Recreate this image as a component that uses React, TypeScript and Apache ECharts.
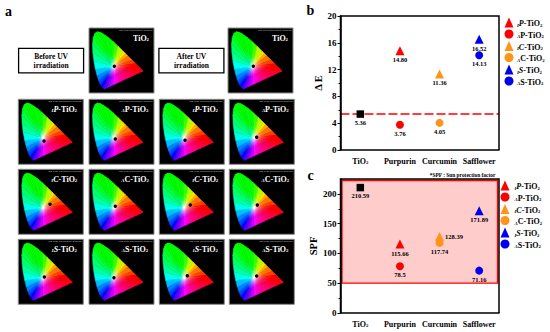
import React, { useEffect, useRef } from "react";
import * as echarts from "echarts";

const SERIF = '"Liberation Serif"';

// ---------- data ----------
const CATEGORIES = ["TiO2", "Purpurin", "Curcumin", "Safflower"];
const SERIES_NAMES = ["lP-TiO2", "aP-TiO2", "lC-TiO2", "aC-TiO2", "lS-TiO2", "aS-TiO2"];
const SERIES_CATEGORY = [1, 1, 2, 2, 3, 3];
const SERIES_SYMBOL = ["triangle", "circle", "triangle", "circle", "triangle", "circle"];
const SERIES_COLOR = ["#FF0000", "#FF0000", "#FF9419", "#FF9419", "#0000F0", "#0000F0"];

const DELTA_E_TIO2 = 5.36;
const DELTA_E_VALUES = [14.8, 3.76, 11.36, 4.05, 16.52, 14.13];
const DELTA_E_LABELS = ["14.80", "3.76", "11.36", "4.05", "16.52", "14.13"];
const DELTA_E_TICKS = [0, 4, 8, 12, 16, 20];

const SPF_TIO2 = 210.59;
const SPF_VALUES = [115.66, 78.5, 128.39, 117.74, 171.89, 71.16];
const SPF_LABELS = ["115.66", "78.5", "128.39", "117.74", "171.89", "71.16"];
const SPF_TICKS = [0, 50, 100, 150, 200];
const SPF_LIMIT = 50;
const SPF_MAX = 225;

// CIE 1931 outline (x, y) and the measured chromaticity of each sample
const CIE_OUTLINE = [
  [0.1741, 0.005], [0.144, 0.0297], [0.1241, 0.0578], [0.1096, 0.0868], [0.0913, 0.1327],
  [0.0687, 0.2007], [0.0454, 0.295], [0.0235, 0.4127], [0.0082, 0.5384], [0.0039, 0.6548],
  [0.0139, 0.7502], [0.0389, 0.812], [0.0743, 0.8338], [0.1142, 0.8262], [0.1547, 0.8059],
  [0.2296, 0.7543], [0.3016, 0.6923], [0.3731, 0.6245], [0.4441, 0.5547], [0.4788, 0.5202],
  [0.5125, 0.4866], [0.5752, 0.4242], [0.627, 0.3725], [0.6915, 0.3083], [0.7347, 0.2653],
  [0.65, 0.2259], [0.6, 0.2029], [0.55, 0.1796], [0.5, 0.1565], [0.45, 0.1333],
  [0.4, 0.1098], [0.35, 0.0866], [0.3, 0.0634], [0.25, 0.04], [0.21, 0.0215], [0.1741, 0.005],
];
const WHITE_POINT = [0.3127, 0.329];
const SAMPLE_LABELS = [
  "TiO2", "TiO2",
  "lP", "aP", "lP", "aP",
  "lC", "aC", "lC", "aC",
  "lS", "aS", "lS", "aS",
];
const SAMPLE_CIE = [
  [0.319, 0.333], [0.319, 0.333],
  [0.325, 0.284], [0.333, 0.313], [0.325, 0.294], [0.349, 0.338],
  [0.412, 0.381], [0.333, 0.352], [0.401, 0.371], [0.358, 0.371],
  [0.329, 0.342], [0.314, 0.332], [0.358, 0.361], [0.349, 0.357],
];
const PANEL_SLOTS = [
  [89, 28], [228, 28],
  [18.3, 99.3], [89, 99.3], [159.3, 99.3], [229.3, 99.3],
  [18.3, 169.3], [89, 169.3], [159.3, 169.3], [229.3, 169.3],
  [18.3, 239.3], [89, 239.3], [159.3, 239.3], [229.3, 239.3],
];
const BOXES = [
  { x: 18.6, text: "Before UV\nirradiation" },
  { x: 158.9, text: "After UV\nirradiation" },
];

// ---------- helpers ----------
const gamma = (v: number) => Math.round(255 * Math.pow(v, 1 / 1.5));
function xyColor(x: number, y: number) {
  const X = x / y, Y = 1, Z = (1 - x - y) / y;
  let r = Math.max(0, 3.2406 * X - 1.5372 * Y - 0.4986 * Z);
  let g = Math.max(0, -0.9689 * X + 1.8758 * Y + 0.0415 * Z);
  let b = Math.max(0, 0.0557 * X - 0.204 * Y + 1.057 * Z);
  const m = Math.max(r, g, b) || 1;
  return `rgb(${gamma(r / m)},${gamma(g / m)},${gamma(b / m)})`;
}
const segments = CIE_OUTLINE.slice(0, -1).map((p, i) => [p[0], p[1], CIE_OUTLINE[i + 1][0], CIE_OUTLINE[i + 1][1]]);
const segmentStops = segments.map((s) => {
  const mx = (s[0] + s[2]) / 2, my = (s[1] + s[3]) / 2;
  return [0, 0.15, 0.3, 0.5, 0.75, 1].map((t) => {
    const k = Math.min(1, t * 1.7);
    return {
      offset: t,
      color: xyColor(WHITE_POINT[0] + (mx - WHITE_POINT[0]) * k, WHITE_POINT[1] + (my - WHITE_POINT[1]) * k),
    };
  });
});

function seriesRich(color: string, size: number) {
  const font = { fontFamily: SERIF, fontWeight: "bold" as const, color };
  return {
    b: { ...font, fontSize: size, lineHeight: size + 2, verticalAlign: "bottom" as const },
    i: { ...font, fontSize: size, lineHeight: size + 2, fontStyle: "italic" as const, verticalAlign: "bottom" as const },
    s: { ...font, fontSize: size * 0.6, lineHeight: size * 0.6, verticalAlign: "bottom" as const },
    si: { ...font, fontSize: size * 0.6, lineHeight: size * 0.6, fontStyle: "italic" as const, verticalAlign: "bottom" as const },
  };
}
function richName(name: string) {
  if (name.startsWith("TiO2")) return "{b|TiO}{s|2}";
  const prefix = name[0] === "l" ? "{si|I}" : "{si|A}";
  return `${prefix}{${name[0] === "l" ? "i" : "b"}|${name[1]}}{b|-TiO}{s|2}`;
}

function axesFor(gridIndex: number, max: number, interval: number, ticks: number[], name: string, nameGap: number) {
  const labelStyle = { fontFamily: SERIF, fontWeight: "bold" as const, color: "#000" };
  return {
    x: {
      type: "category", gridIndex, data: CATEGORIES, z: 6,
      axisLine: { lineStyle: { color: "#000", width: 1.5 } },
      axisTick: { alignWithLabel: true, length: 2, lineStyle: { color: "#000", width: 1 } },
      axisLabel: {
        margin: 5, interval: 0, ...labelStyle, fontSize: 8,
        formatter: (v: string) => (v === "TiO2" ? "{b|TiO}{s|2}" : `{b|${v}}`),
        rich: seriesRich("#000", 8),
      },
    },
    y: {
      type: "value", gridIndex, min: 0, max, interval, z: 6,
      name, nameLocation: "middle", nameRotate: 90, nameGap,
      nameTextStyle: { ...labelStyle, fontSize: 10.5 },
      axisLine: { show: true, lineStyle: { color: "#000", width: 1.5 } },
      axisTick: { show: true, length: 3, customValues: ticks, lineStyle: { color: "#000", width: 1 } },
      minorTick: { show: true, splitNumber: 2, length: 2, lineStyle: { color: "#000", width: 1 } },
      axisLabel: { margin: 4, ...labelStyle, fontSize: 9, customValues: ticks },
      splitLine: { show: false },
    },
  };
}

function scatterSeries(gridIndex: number, values: number[], labels: string[]) {
  return SERIES_NAMES.map((name, i) => ({
    type: "scatter",
    name,
    xAxisIndex: gridIndex,
    yAxisIndex: gridIndex,
    symbol: SERIES_SYMBOL[i],
    symbolSize: SERIES_SYMBOL[i] === "triangle" ? 9 : 8,
    itemStyle: { color: SERIES_COLOR[i], opacity: 1 },
    label: {
      show: true,
      position: labels[i] === "128.39" ? "right" : "bottom",
      distance: 1,
      formatter: labels[i],
      fontFamily: SERIF, fontWeight: "bold", fontSize: 6.5, color: "#000",
    },
    data: [[SERIES_CATEGORY[i], values[i]]],
  }));
}

function buildOption() {
  const chartB = axesFor(0, 20, 4, DELTA_E_TICKS, "\u0394 E", 17);
  const chartC = axesFor(1, SPF_MAX, 50, SPF_TICKS, "SPF", 20);
  const xAxis: any[] = [chartB.x, chartC.x];
  const yAxis: any[] = [chartB.y, chartC.y];
  const gridC = { left: 340.5, top: 179, width: 158.5, height: 134 };
  const grid: any[] = [{ left: 340.5, top: 16, width: 158.5, height: 134 }, gridC];
  const series: any[] = [];

  const tio2 = (gridIndex: number, value: number, text: string, extra: any) => ({
    type: "scatter", name: "TiO2", xAxisIndex: gridIndex, yAxisIndex: gridIndex,
    symbol: "rect", symbolSize: 7.5, itemStyle: { color: "#000", opacity: 1 },
    label: {
      show: true, position: "bottom", distance: 1, formatter: text,
      fontFamily: SERIF, fontWeight: "bold", fontSize: 6.5, color: "#000",
    },
    data: [[0, value]],
    ...extra,
  });
  series.push(
    tio2(0, DELTA_E_TIO2, DELTA_E_TIO2.toFixed(2), {
      markLine: {
        silent: true, symbol: "none", z: 1, label: { show: false },
        lineStyle: { color: "#FF0000", type: [9, 3], width: 1.5 },
        data: [{ yAxis: DELTA_E_TIO2 }],
      },
    }),
    tio2(1, SPF_TIO2, SPF_TIO2.toFixed(2), {
      markArea: {
        silent: true, z: 1,
        itemStyle: { color: "#FFCCCC", borderWidth: 0 },
        data: [[{ yAxis: SPF_LIMIT }, { yAxis: SPF_MAX }]],
      },
    }),
    ...scatterSeries(0, DELTA_E_VALUES, DELTA_E_LABELS),
    ...scatterSeries(1, SPF_VALUES, SPF_LABELS)
  );

  const graphic: any[] = [];
  const letter = (text: string, x: number, y: number) => ({
    type: "text", x, y, z: 20,
    style: { text, fontFamily: SERIF, fontWeight: "bold", fontSize: 14, fill: "#000", align: "center", verticalAlign: "middle" },
  });
  graphic.push(letter("a", 8.5, 11), letter("b", 310.5, 10), letter("c", 310.5, 175));
  graphic.push({
    type: "text", x: 462.5, y: 175, z: 20,
    style: {
      text: "*SPF : Sun protection factor", fontFamily: SERIF, fontWeight: "bold", fontSize: 5.4,
      fill: "#000", align: "center", verticalAlign: "middle",
    },
  });
  // frames of the two plots, and the red outline of the SPF window just inside the frame
  const limitY = gridC.top + gridC.height * (1 - SPF_LIMIT / SPF_MAX);
  graphic.push({
    type: "polyline", z: 1.5, zlevel: 0, silent: true,
    shape: {
      points: [
        [gridC.left + 1.5, limitY], [gridC.left + 1.5, gridC.top + 1.5],
        [gridC.left + gridC.width - 1.5, gridC.top + 1.5], [gridC.left + gridC.width - 1.5, limitY],
        [gridC.left + 1.5, limitY],
      ],
    },
    style: { fill: "none", stroke: "#FF0000", lineWidth: 1.3 },
  });
  [16, 179].forEach((top) =>
    graphic.push({
      type: "polyline", z: 30, silent: true,
      shape: {
        points: [
          [340.5, top + 134], [340.5, top], [499, top], [499, top + 134],
        ],
      },
      style: { fill: "none", stroke: "#000", lineWidth: 1.5 },
    })
  );
  BOXES.forEach((b) => {
    graphic.push({
      type: "rect", z: 1,
      shape: { x: b.x, y: 48.3, width: 65, height: 24.5 },
      style: { fill: "#fff", stroke: "#000", lineWidth: 1.3 },
    });
    graphic.push({
      type: "text", x: b.x + 32.5, y: 60.8, z: 2,
      style: {
        text: b.text, fontFamily: SERIF, fontWeight: "bold", fontSize: 7.5, lineHeight: 9,
        fill: "#000", align: "center", verticalAlign: "middle",
      },
    });
  });

  SAMPLE_LABELS.forEach((name, i) => {
    const [px, py] = PANEL_SLOTS[i];
    const gridIndex = i + 2;
    const scale = 69;
    const maxY = 0.9;
    grid.push({ left: px + 3.3, top: py + 61.3 - scale * maxY, width: scale * 0.8, height: scale * maxY });
    const tickStyle = {
      show: true, length: 1, inside: false, lineStyle: { color: "#777", width: 0.4 },
    };
    const tickLabel = { show: false };
    xAxis.push({
      type: "value", gridIndex, min: 0, max: 0.8, interval: 0.1,
      axisLine: { show: false }, axisTick: tickStyle, axisLabel: tickLabel, splitLine: { show: false },
    });
    yAxis.push({
      type: "value", gridIndex, min: 0, max: maxY, interval: 0.1,
      axisLine: { show: false }, axisTick: tickStyle, axisLabel: tickLabel, splitLine: { show: false },
    });

    series.push({
      type: "custom", xAxisIndex: gridIndex, yAxisIndex: gridIndex, silent: true, clip: false, z: 2,
      data: segments,
      renderItem: (params: any, api: any) => {
        const a = api.coord([api.value(0), api.value(1)]);
        const b = api.coord([api.value(2), api.value(3)]);
        const c = api.coord(WHITE_POINT);
        const mx = (a[0] + b[0]) / 2, my = (a[1] + b[1]) / 2;
        const grad = new echarts.graphic.LinearGradient(c[0], c[1], mx, my, segmentStops[params.dataIndex], true);
        return {
          type: "polygon",
          shape: { points: [c, a, b] },
          style: { fill: grad, stroke: grad, lineWidth: 0.6 },
        };
      },
    });
    series.push({
      type: "scatter", xAxisIndex: gridIndex, yAxisIndex: gridIndex, silent: true, z: 3,
      symbol: "circle", symbolSize: 3.4, itemStyle: { color: "#000", opacity: 1 },
      data: [SAMPLE_CIE[i]],
    });

    graphic.push({
      type: "rect", z: 1,
      shape: { x: px, y: py, width: 65, height: 65 },
      style: { fill: "#000", stroke: "#8a8a8a", lineWidth: 1 },
    });
    graphic.push({
      type: "text", x: px + 63.5, y: py + 1, z: 5,
      style: {
        text: "CIE 1931 Chromaticity Diagram", fontFamily: "Liberation Sans", fontSize: 2.4, fill: "#bbb",
        align: "right", verticalAlign: "top",
      },
    });
    graphic.push({
      type: "text", x: px + (name === "TiO2" ? 52 : 46), y: py + 9, z: 5,
      style: {
        text: name === "TiO2" ? richName("TiO2") : richName(name + "-TiO2"),
        rich: seriesRich("#fff", 8), fill: "#fff", fontFamily: SERIF, fontWeight: "bold", fontSize: 8,
        align: "center", verticalAlign: "middle",
      },
    });
  });

  const legendBase = (left: number, top: number, pad: number) => ({
    orient: "vertical", left, top, padding: 0, itemWidth: 9, itemHeight: 10, itemGap: 2,
    selectedMode: false,
    data: SERIES_NAMES.map((n, i) => ({ name: n, icon: SERIES_SYMBOL[i] })),
    formatter: (n: string) => richName(n),
    textStyle: {
      rich: seriesRich("#000", 8), fontFamily: SERIF, fontWeight: "bold", fontSize: 8, color: "#000",
      padding: [0, 0, 0, pad],
    },
  });

  return {
    animation: false,
    backgroundColor: "#fff",
    grid, xAxis, yAxis, series, graphic,
    legend: [legendBase(504.5, 17.5, -1.5), legendBase(500.5, 180.5, 0)],
  };
}

export default function App() {
  const ref = useRef<HTMLDivElement>(null);
  useEffect(() => {
    const chart = echarts.init(ref.current!, undefined, { renderer: "svg" });
    chart.setOption(buildOption() as any);
    return () => chart.dispose();
  }, []);
  return <div ref={ref} style={{ position: "absolute", left: 0, top: 0, width: 550, height: 332 }} />;
}
